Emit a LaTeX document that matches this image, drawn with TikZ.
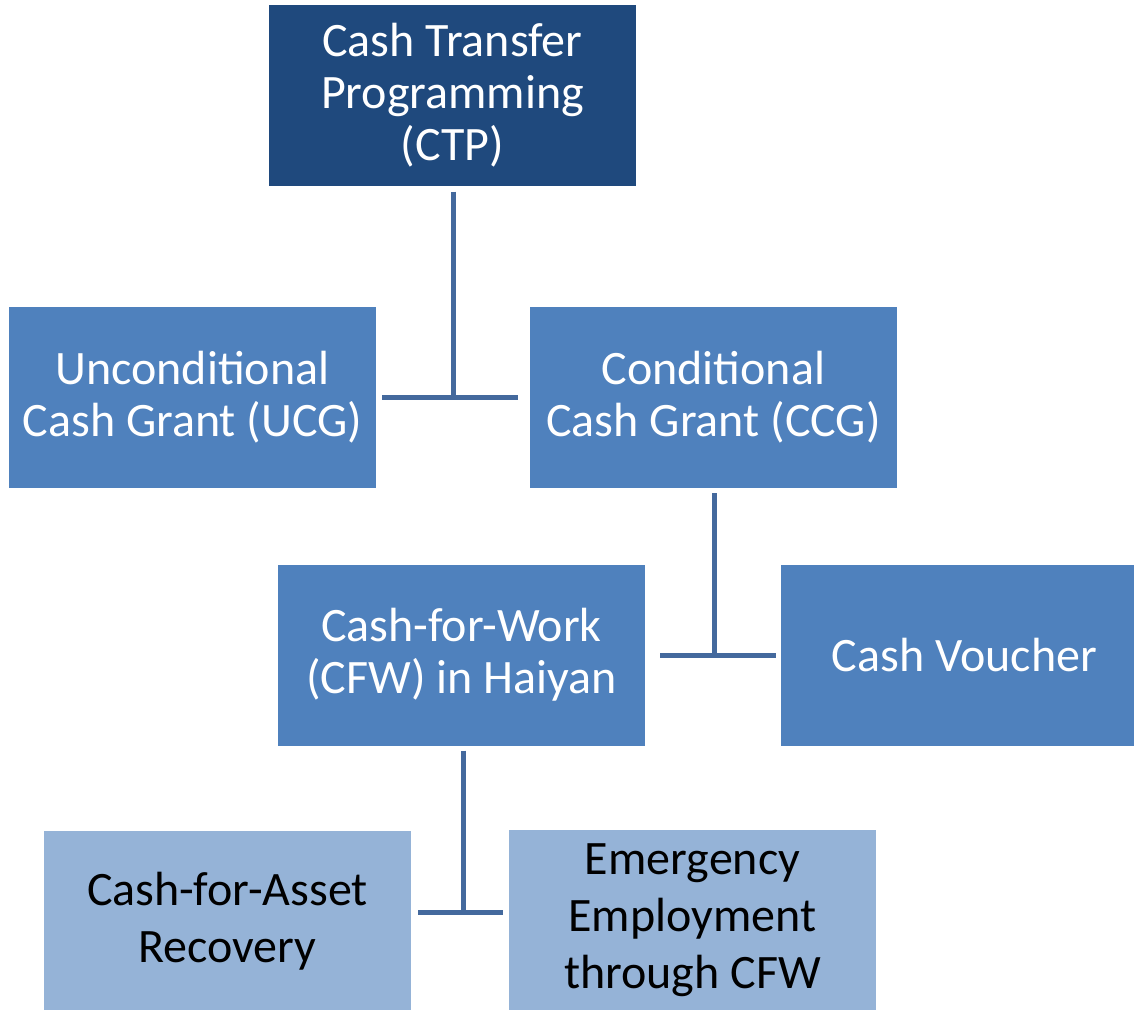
\documentclass[tikz,border=0pt]{standalone}
\usepackage{fontspec}
\setmainfont{Carlito}
\usepackage{tikz}
\usetikzlibrary{positioning}
\definecolor{topblue}{HTML}{1F497D}
\definecolor{midblue}{HTML}{4F81BD}
\definecolor{lowblue}{HTML}{95B3D7}
\definecolor{linkblue}{HTML}{44699D}
\tikzset{box/.style={fill=midblue,text=white,minimum width=367pt,minimum height=181pt,
    inner sep=0pt,align=center,font=\fontsize{48}{52}\selectfont},
  topbox/.style={box,fill=topblue},
  lowbox/.style={box,fill=lowblue,text=black,font=\fontsize{48}{57}\selectfont},
  link/.style={draw=linkblue,line width=5pt}}

\begin{document}
\begin{tikzpicture}[x=1pt,y=-1pt]
\useasboundingbox (0,0) rectangle (1134,1009);
\node[topbox] (ctp) at (452.5,95) {Cash Transfer\\Programming\\(CTP)};
\node[box] (ucg) at (192.5,397.5) {Unconditional\\Cash Grant (UCG)};
\node[box] (ccg) at (713.5,397.5) {Conditional\\Cash Grant (CCG)};
\node[box] (cfw) at (461.5,655) {Cash-for-Work\\(CFW) in Haiyan};
\node[box] (cv) at (964.5,655) {Cash Voucher};
\node[lowbox] (car) at (227.5,921) {Cash-for-Asset\\Recovery};
\node[lowbox] (eet) at (692.5,920) {Emergency\\Employment\\through CFW};

\coordinate (j1) at (453,397.5);
\coordinate (j2) at (714,655);
\coordinate (j3) at (463,912);
\draw[link] ([yshift=-6pt]ctp.south -| j1) -- (j1);
\draw[link] ([xshift=6pt]ucg.east |- j1) -- ([xshift=-12pt]ccg.west |- j1);
\draw[link] ([yshift=-5pt]ccg.south -| j2) -- (j2);
\draw[link] ([xshift=15pt]cfw.east |- j2) -- ([xshift=-5pt]cv.west |- j2);
\draw[link] ([yshift=-5pt]cfw.south -| j3) -- (j3);
\draw[link] ([xshift=7pt]car.east |- j3) -- ([xshift=-6pt]eet.west |- j3);

\end{tikzpicture}
\end{document}
